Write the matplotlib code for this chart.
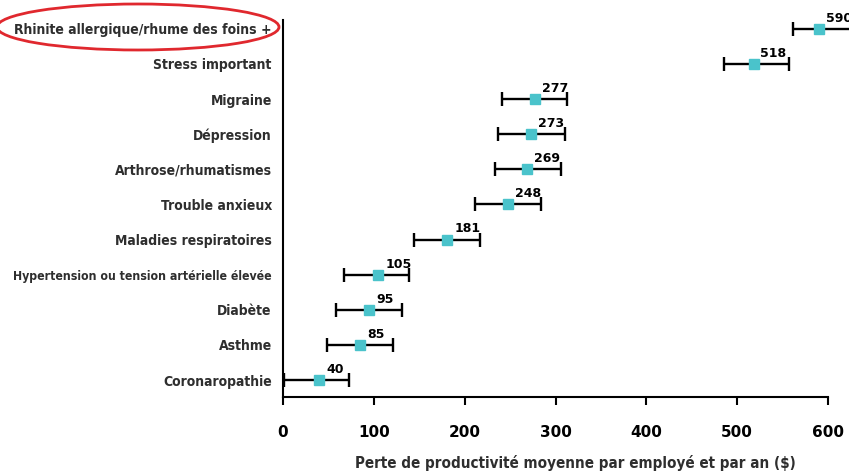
import matplotlib
matplotlib.use('Agg')
from matplotlib import pyplot as plt
from matplotlib.patches import Ellipse

# Data (bottom to top)
conditions = ['Coronaropathie', 'Asthme', 'Diabète',
              'Hypertension ou tension artérielle élevée',
              'Maladies respiratoires', 'Trouble anxieux',
              'Arthrose/rhumatismes', 'Dépression', 'Migraine',
              'Stress important', 'Rhinite allergique/rhume des foins +']
values = [40, 85, 95, 105, 181, 248, 269, 273, 277, 518, 590]
ci_low = [1, 48, 58, 67, 144, 211, 233, 237, 241, 485, 561]
ci_high = [73, 121, 131, 139, 217, 284, 306, 310, 313, 557, 625]
xticks = [0, 100, 200, 300, 400, 500, 600]

label_col = '#2e2e2e'
teal = '#4ac3cb'
cond = dict(family='DejaVu Sans', fontstretch='condensed', fontweight='bold',
            color=label_col)

fig = plt.figure(figsize=(8.49, 4.73), dpi=100)
ax = fig.add_axes([0.3333, 0.1607, 0.642, 0.797])

ypos = list(range(len(conditions)))
err = [[v - lo for v, lo in zip(values, ci_low)],
       [hi - v for v, hi in zip(values, ci_high)]]
eb = ax.errorbar(values, ypos, xerr=err, fmt='none', ecolor='black',
                 elinewidth=1.7, capsize=5, capthick=1.7, zorder=2)
for art in list(eb.lines[1]) + list(eb.lines[2]):
    art.set_clip_on(False)
ax.plot(values, ypos, 's', color=teal, markersize=7.5, zorder=3,
        clip_on=False)

for v, y in zip(values, ypos):
    ax.annotate(str(v), xy=(v, y), xytext=(5, 3), textcoords='offset points',
                ha='left', va='bottom', fontsize=9, fontweight='bold',
                color='black', annotation_clip=False)

ax.set_xlim(0, 600)
ax.set_ylim(-0.48, 10.25)
ax.set_xticks(xticks)
ax.set_xticklabels([str(t) for t in xticks], fontsize=11, fontweight='bold')
ax.set_yticks(ypos)
ax.set_yticklabels(conditions, fontsize=10, **cond)
for lab in ax.get_yticklabels():
    if lab.get_text().startswith('Hypertension'):
        lab.set_fontsize(8.8)
ax.tick_params(axis='y', length=0, pad=8)
ax.tick_params(axis='x', direction='out', length=6, width=1.5, pad=14)

for s in ['top', 'right']:
    ax.spines[s].set_visible(False)
for s in ['left', 'bottom']:
    ax.spines[s].set_linewidth(1.5)

fig.text(575 / 849, 1 - 463 / 473,
         'Perte de productivité moyenne par employé et par an ($)',
         fontsize=10.9, ha='center', va='center', **cond)

# Red ellipse highlighting the first condition
ell = Ellipse((138 / 849, 1 - 27 / 473), 282 / 849, 46 / 473,
              transform=fig.transFigure, fill=False, edgecolor='#e0282e',
              linewidth=2)
fig.patches.append(ell)

fig.savefig('out.png', dpi=100)
